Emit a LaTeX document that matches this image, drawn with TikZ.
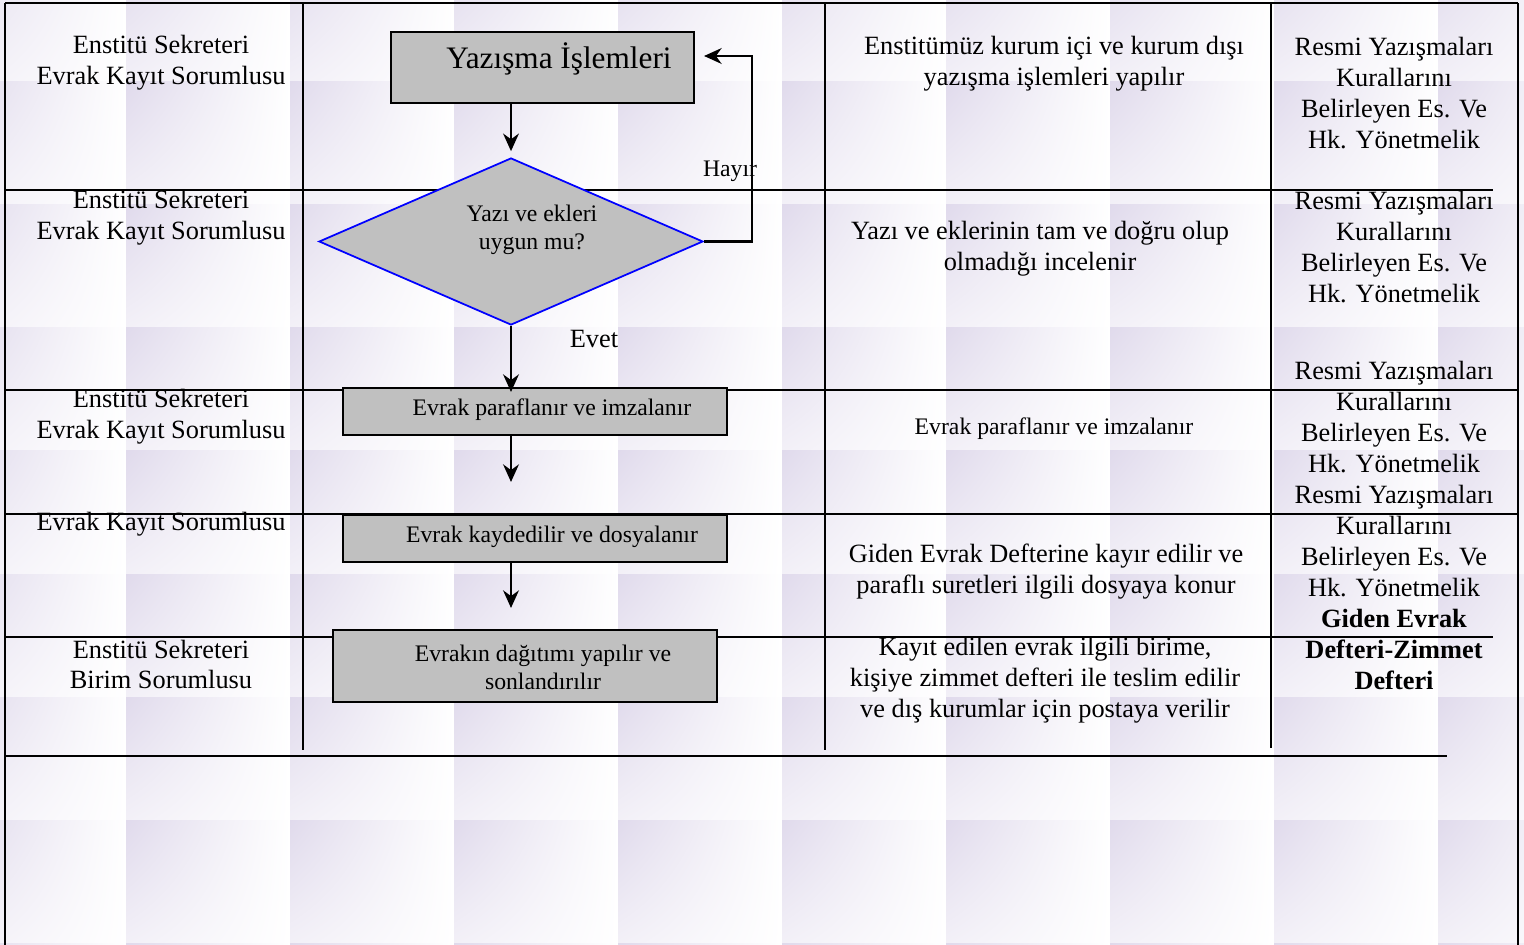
\documentclass[tikz,border=0pt]{standalone}
\usepackage{fontspec}
\setmainfont{Liberation Serif}
\usetikzlibrary{arrows.meta,shapes.geometric,shadings}

\definecolor{boxgray}{RGB}{192,192,192}
\definecolor{tilec}{RGB}{224,218,236}
\newcommand{\pxu}{0.02cm}

\begin{document}
\begin{tikzpicture}[x=0.02cm, y=-0.02cm, >={Stealth[length=10pt,width=9pt]},
    grid/.style={line width=1.2pt},
    stepbox/.style={draw, line width=1.2pt, fill=boxgray, inner sep=0pt},
    decision/.style={diamond, draw=blue, line width=1pt, fill=boxgray, inner sep=0pt,
      minimum width=384*\pxu, minimum height=167*\pxu},
    txt/.style={align=center, font=\fontsize{15}{17.6}\selectfont},
    smalltxt/.style={align=center, font=\fontsize{13.5}{16}\selectfont},
    flow/.style={->, line width=1.2pt}]

    \useasboundingbox (0,0) rectangle (1524,945);
    \fill[white] (0,0) rectangle (1524,945);

    % tiled background
    \begin{scope}
      \clip (0,0) rectangle (1524,945);
      \foreach \i in {0,...,9} {
        \foreach \j in {0,...,8} {
          \shade[upper left=tilec, upper right=white, lower left=tilec!40!white, lower right=white]
            ({-38+164*\i},{-41+123*\j}) rectangle ++(164,123);
        }
      }
    \end{scope}

    % table lines
    \draw[grid] (5,3) -- (1518,3);
    \draw[grid] (5,190) -- (1493,190);
    \draw[grid] (5,390) -- (1518,390);
    \draw[grid] (5,514) -- (1518,514);
    \draw[grid] (5,637) -- (1493,637);
    \draw[grid] (5,756) -- (1447,756);
    \draw[grid] (5,3) -- (5,945);
    \draw[grid] (1518,3) -- (1518,945);
    \draw[grid] (303,3) -- (303,750);
    \draw[grid] (825,3) -- (825,750);
    \draw[grid] (1271,3) -- (1271,748);

    % responsible persons
    \node[txt] (who1) at (161,63) {Enstitü Sekreteri\\Evrak Kayıt Sorumlusu};
    \node[txt] (who2) at (161,218) {Enstitü Sekreteri\\Evrak Kayıt Sorumlusu};
    \node[txt] (who3) at (161,416.5) {Enstitü Sekreteri\\Evrak Kayıt Sorumlusu};
    \node[txt] (who4) at (161,524.5) {Evrak Kayıt Sorumlusu};
    \node[txt] (who5) at (161,664.5) {Enstitü Sekreteri\\Birim Sorumlusu};

    % flow chart
    \node[stepbox, minimum width=303*\pxu, minimum height=71*\pxu] (title) at (542.5,67.5) {};
    \node[font=\fontsize{17.8}{20}\selectfont] (titletext) at (559,59) {Yazışma İşlemleri};

    \node[decision] (check) at (511,241.5) {};
    \node[smalltxt] (checktext) at (532,229.5) {Yazı ve ekleri\\uygun mu?};

    \node[stepbox, minimum width=384*\pxu, minimum height=47*\pxu] (sign) at (535,411.5) {};
    \node[smalltxt] (signtext) at (552,409.5) {Evrak paraflanır ve imzalanır};

    \node[stepbox, minimum width=384*\pxu, minimum height=47*\pxu] (record) at (535,538.5) {};
    \node[smalltxt] (recordtext) at (552,536.5) {Evrak kaydedilir ve dosyalanır};

    \node[stepbox, minimum width=384*\pxu, minimum height=72*\pxu] (distribute) at (525,666) {};
    \node[smalltxt] (distributetext) at (543,667) {Evrakın dağıtımı yapılır ve\\sonlandırılır};

    \draw[flow, shorten >=0.12cm] (check.north |- title.south) -- (check.north);
    \draw[flow, shorten >=0.18cm] (check.east) -- ++(48,0) |- ([yshift=0.23cm]title.east);
    \draw[flow, shorten >=-0.1cm] (check.south) -- (check.south |- sign.north);
    \draw[flow, shorten >=0.64cm] (check.south |- sign.south) -- (check.south |- record.north);
    \draw[flow, shorten >=0.42cm] (check.south |- record.south) -- (check.south |- distribute.north);

    \node[smalltxt] (no) at (730,171.5) {Hayır};
    \node[txt] (yes) at (594,339) {Evet};

    % descriptions
    \node[txt] (desc1) at (1054,64) {Enstitümüz kurum içi ve kurum dışı\\yazışma işlemleri yapılır};
    \node[txt] (desc2) at (1040,249) {Yazı ve eklerinin tam ve doğru olup\\olmadığı incelenir};
    \node[smalltxt] (desc3) at (1054,429) {Evrak paraflanır ve imzalanır};
    \node[txt] (desc4) at (1046,572) {Giden Evrak Defterine kayır edilir ve\\paraflı suretleri ilgili dosyaya konur};
    \node[txt] (desc5) at (1045,680.5) {Kayıt edilen evrak ilgili birime,\\kişiye zimmet defteri ile teslim edilir\\ve dış kurumlar için postaya verilir};

    % documents
    \node[txt] (doc1) at (1394,93) {Resmi Yazışmaları\\Kurallarını\\Belirleyen Es. Ve\\Hk. Yönetmelik};
    \node[txt] (doc2) at (1394,247) {Resmi Yazışmaları\\Kurallarını\\Belirleyen Es. Ve\\Hk. Yönetmelik};
    \node[txt] (doc3) at (1394,417) {Resmi Yazışmaları\\Kurallarını\\Belirleyen Es. Ve\\Hk. Yönetmelik};
    \node[txt] (doc4) at (1394,541) {Resmi Yazışmaları\\Kurallarını\\Belirleyen Es. Ve\\Hk. Yönetmelik};
    \node[txt, font=\fontsize{15}{17.6}\selectfont\bfseries] (doc5) at (1394,649.5) {Giden Evrak\\Defteri-Zimmet\\Defteri};

\end{tikzpicture}
\end{document}
